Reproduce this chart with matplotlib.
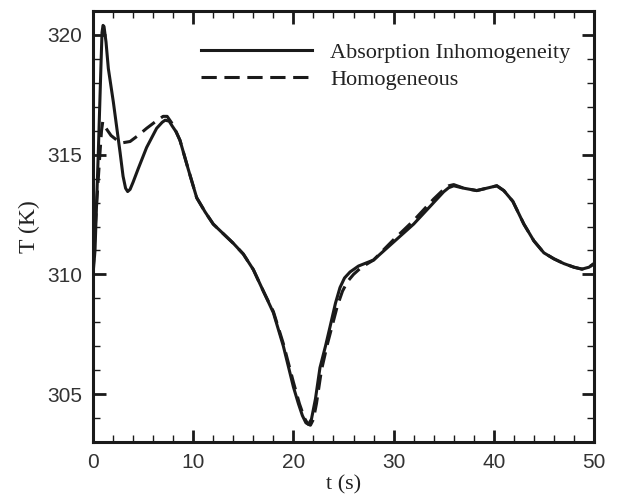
import numpy as np
import matplotlib
matplotlib.use('Agg')
import matplotlib.pyplot as plt
from matplotlib.ticker import MultipleLocator

# data
t_abs = [0, 0.2, 0.53, 0.8, 0.9, 1.0, 1.1, 1.3, 1.53, 2.03, 2.7, 3.0, 3.25, 3.46, 3.7, 4.0, 4.5, 5.35,
         6.35, 6.9, 7.2, 7.6, 7.9, 8.3, 8.68, 9.5, 10.35, 11.2, 12.0, 13.0, 14.0, 15.0, 16.0, 17.0,
         18.0, 19.0, 20.0, 20.5, 20.9, 21.25, 21.5, 21.8, 22.2, 22.65, 23.2, 23.65, 24.2, 24.65, 25.1,
         25.65, 26.5, 28.0, 30.0, 32.0, 34.0, 35.0, 35.5, 36.0, 37.0, 38.3, 39.3, 40.3, 41.0, 41.9,
         43.0, 44.0, 45.0, 46.0, 47.0, 48.0, 48.8, 49.5, 50]
T_abs = [310.0, 311.0, 315.1, 318.8, 320.1, 320.4, 320.35, 319.7, 318.6, 317.2, 315.1, 314.1, 313.6,
         313.46, 313.55, 313.85, 314.4, 315.3, 316.1, 316.35, 316.44, 316.4, 316.2, 315.95, 315.6,
         314.4, 313.2, 312.6, 312.1, 311.7, 311.3, 310.85, 310.2, 309.3, 308.4, 307.0, 305.3, 304.6,
         304.1, 303.8, 303.74, 303.95, 304.8, 306.1, 307.0, 307.8, 308.8, 309.45, 309.85, 310.1,
         310.35, 310.6, 311.35, 312.1, 313.0, 313.45, 313.62, 313.7, 313.6, 313.5, 313.6, 313.7,
         313.5, 313.05, 312.1, 311.4, 310.9, 310.65, 310.45, 310.3, 310.22, 310.3, 310.45]

t_hom = [0, 0.2, 0.37, 0.7, 0.85, 0.97, 1.1, 1.3, 1.8, 2.4, 3.0, 3.7, 4.5, 5.35, 6.3, 7.0, 7.4, 7.9,
         8.3, 8.68, 9.5, 10.35, 11.2, 12.0, 13.0, 14.0, 15.0, 16.0, 17.0, 18.0, 19.0, 20.0, 20.6,
         21.1, 21.45, 21.7, 22.0, 22.3, 22.8, 23.4, 23.9, 24.4, 24.9, 25.4, 26.0, 26.8, 28.0, 30.0,
         32.0, 34.0, 35.0, 35.5, 36.0, 37.0, 38.3, 39.3, 40.3, 41.0, 41.9, 43.0, 44.0, 45.0, 46.0,
         47.0, 48.0, 48.8, 49.5, 50]
T_hom = [310.0, 311.8, 313.0, 315.1, 316.0, 316.37, 316.3, 316.1, 315.8, 315.6, 315.5, 315.55, 315.8,
         316.1, 316.4, 316.6, 316.6, 316.3, 315.95, 315.6, 314.4, 313.2, 312.6, 312.1, 311.7, 311.3,
         310.85, 310.2, 309.3, 308.45, 307.1, 305.5, 304.6, 304.0, 303.75, 303.7, 303.95, 304.6,
         306.0, 307.1, 307.9, 308.7, 309.3, 309.7, 310.0, 310.3, 310.6, 311.45, 312.25, 313.15,
         313.55, 313.7, 313.75, 313.6, 313.5, 313.6, 313.7, 313.5, 313.05, 312.1, 311.4, 310.9,
         310.65, 310.45, 310.3, 310.22, 310.3, 310.45]

fig = plt.figure(figsize=(6.17, 4.97), dpi=100)
ax = fig.add_axes([93/617, 1 - 442/497, (594 - 93)/617, (442 - 11)/497])

ax.plot(t_abs, T_abs, color='#1a1a1a', lw=2.2, label='Absorption Inhomogeneity')
ax.plot(t_hom, T_hom, color='#1a1a1a', lw=2.2, dashes=(5, 2.5), label='Homogeneous')

ax.set_xlim(0, 50)
ax.set_ylim(303, 321)
ax.xaxis.set_major_locator(MultipleLocator(10))
ax.xaxis.set_minor_locator(MultipleLocator(2))
ax.yaxis.set_major_locator(MultipleLocator(5))
ax.yaxis.set_minor_locator(MultipleLocator(1))

ax.tick_params(which='both', direction='in', top=True, right=True, color='#1a1a1a')
ax.tick_params(which='major', length=9, width=2.0)
ax.tick_params(which='minor', length=5, width=1.0)
ax.tick_params(axis='x', which='major', pad=8)
ax.tick_params(axis='y', which='major', pad=8)
for s in ax.spines.values():
    s.set_linewidth(2.2)
    s.set_color('#1a1a1a')

for lab in ax.get_xticklabels() + ax.get_yticklabels():
    lab.set_fontfamily('Liberation Sans')
    lab.set_fontsize(15)
    lab.set_color('#333333')

ax.set_xlabel('t (s)', family='Liberation Serif', fontsize=16, color='#222222', labelpad=2)
ax.set_ylabel('T (K)', family='Liberation Serif', fontsize=17, color='#222222', labelpad=5)

leg = ax.legend(loc='upper left', bbox_to_anchor=(190/617, 1 - 31/497),
                bbox_transform=fig.transFigure, frameon=False, borderpad=0,
                handlelength=5.0, handletextpad=0.8, labelspacing=0.3,
                prop={'family': 'Liberation Serif', 'size': 16})
for txt in leg.get_texts():
    txt.set_color('#222222')

fig.savefig('out.png', dpi=100)
